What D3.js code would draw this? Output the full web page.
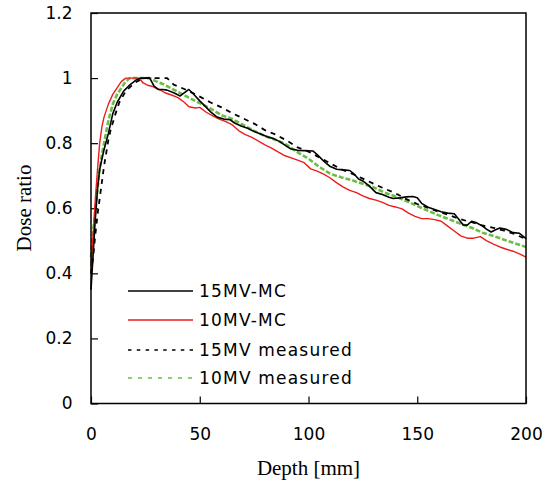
<!DOCTYPE html>
<html lang="en">
<head>
    <meta charset="UTF-8">
    <title>Dose ratio vs depth</title>
    <script src="https://d3js.org/d3.v7.min.js"></script>
    <style>
        body { margin: 0; background: #fff; }
        .tick text { font-family: "DejaVu Sans", sans-serif; font-size: 17px; fill: #000; }
        .tick line { stroke: #000; stroke-width: 1.2; }
        .legend text { font-family: "DejaVu Sans", sans-serif; font-size: 17px; letter-spacing: 1.2px; }
        .title { font-family: "Liberation Serif", "Times New Roman", serif; font-size: 21px; }
    </style>
</head>
<body>
<svg width="553" height="484"></svg>
<script>
    // 15MV Monte Carlo
    const mc15Depth = [0,1,2,3,4,6,8,10,12,15,18,21,23,27,29,31,33,35,38,41,43,45,47,50,53,55,58,61,64,66,69,72,75,78,81,84,87,90,92,95,98,102,104,107,110,113,116,119,121,123,125,128,131,134,137,139,142,145,148,150,152,155,158,161,164,167,169,171,173,175,177,180,182,184,186,188,191,194,197,200];
    const mc15Dose  = [0.35,0.46,0.57,0.66,0.72,0.78,0.83,0.89,0.925,0.96,0.98,0.995,1.0,1.0,0.975,0.965,0.965,0.963,0.955,0.945,0.955,0.965,0.952,0.93,0.91,0.896,0.88,0.874,0.872,0.862,0.853,0.846,0.836,0.828,0.82,0.814,0.804,0.79,0.782,0.778,0.777,0.776,0.765,0.745,0.728,0.72,0.718,0.716,0.705,0.69,0.684,0.668,0.648,0.642,0.634,0.63,0.632,0.635,0.636,0.632,0.615,0.603,0.596,0.589,0.585,0.583,0.567,0.549,0.548,0.56,0.556,0.545,0.535,0.527,0.534,0.539,0.535,0.525,0.523,0.507];

    // 10MV Monte Carlo
    const mc10Depth = [0,1,2,3,4,5,6,8,10,12,14,16,22,24,26,28,30,32,34,37,40,43,45,48,50,53,56,59,62,65,68,71,74,77,80,83,86,89,92,95,98,101,104,107,110,113,116,119,122,125,128,131,134,137,140,143,146,149,152,155,158,161,164,167,170,173,176,179,182,185,188,191,194,197,200];
    const mc10Dose  = [0.42,0.52,0.63,0.72,0.80,0.85,0.88,0.92,0.95,0.97,0.99,1.0,1.0,0.985,0.978,0.975,0.968,0.963,0.955,0.948,0.94,0.925,0.912,0.908,0.91,0.895,0.884,0.874,0.866,0.856,0.838,0.826,0.818,0.806,0.795,0.785,0.773,0.762,0.755,0.748,0.74,0.721,0.714,0.705,0.693,0.678,0.665,0.655,0.648,0.638,0.63,0.625,0.618,0.609,0.604,0.598,0.585,0.575,0.568,0.568,0.565,0.56,0.545,0.53,0.515,0.508,0.508,0.513,0.5,0.49,0.481,0.474,0.468,0.46,0.45];

    // 15MV measured
    const meas15Depth = [0,1,2,3,4,5,6,7,8,9,11,13,16,20,24,35,38,41,45,50,55,60,65,70,75,80,85,90,95,100,105,110,115,120,125,130,135,140,145,150,155,160,165,170,175,180,185,190,195,200];
    const meas15Dose  = [0.40,0.45,0.52,0.58,0.63,0.68,0.73,0.77,0.81,0.84,0.885,0.925,0.96,0.985,1.0,1.0,0.98,0.972,0.96,0.943,0.925,0.91,0.892,0.876,0.86,0.84,0.826,0.808,0.787,0.774,0.756,0.738,0.72,0.706,0.691,0.675,0.66,0.646,0.628,0.613,0.601,0.589,0.578,0.566,0.557,0.547,0.54,0.531,0.52,0.505];

    // 10MV measured
    const meas10Depth = [0,1,2,3,4,5,6,8,10,12,14,16,18,27,30,33,37,41,45,50,55,60,65,70,75,80,85,90,95,100,105,110,115,120,125,130,135,140,145,150,155,160,165,170,175,180,185,190,195,200];
    const meas10Dose  = [0.45,0.53,0.59,0.66,0.72,0.765,0.80,0.87,0.92,0.95,0.97,0.99,1.0,1.0,0.99,0.982,0.968,0.954,0.94,0.923,0.906,0.886,0.874,0.856,0.838,0.822,0.81,0.795,0.772,0.752,0.727,0.706,0.695,0.686,0.675,0.664,0.648,0.636,0.622,0.607,0.592,0.578,0.565,0.552,0.54,0.525,0.515,0.503,0.492,0.481];

    const seriesNames = ["15MV-MC", "10MV-MC", "15MV measured", "10MV measured"];
    const xTicks = [0, 50, 100, 150, 200];
    const yTicks = [0, 0.2, 0.4, 0.6, 0.8, 1.0, 1.2];

    const zip = (ds, vs) => ds.map((d, i) => ({ depth: d, dose: vs[i] }));
    const series = [
        { name: seriesNames[0], pts: zip(mc15Depth, mc15Dose), color: "#000", width: 1.6, dash: null, lw: 1.6, ldash: null },
        { name: seriesNames[1], pts: zip(mc10Depth, mc10Dose), color: "#ee1c1c", width: 1.4, dash: null, lw: 1.4, ldash: null },
        { name: seriesNames[2], pts: zip(meas15Depth, meas15Dose), color: "#000", width: 1.8, dash: "5,5", lw: 1.6, ldash: "3.5,5.3" },
        { name: seriesNames[3], pts: zip(meas10Depth, meas10Dose), color: "#6cbd45", width: 2.6, dash: "5,2", lw: 1.6, ldash: "4,6" }
    ];

    const svg = d3.select("svg");
    const plotLeft = 91, plotRight = 526, plotTop = 13, plotBottom = 403.5;

    const x = d3.scaleLinear().domain([0, 200]).range([plotLeft, plotRight]);
    const y = d3.scaleLinear().domain([0, 1.2]).range([plotBottom, plotTop]);

    // axes (ticks pointing inward)
    svg.append("g")
        .attr("transform", `translate(0,${plotBottom})`)
        .call(d3.axisBottom(x).tickValues(xTicks).tickSizeInner(-7).tickSizeOuter(0).tickPadding(24.5))
        .call(g => g.select(".domain").remove());

    svg.append("g")
        .attr("transform", `translate(${plotLeft},0)`)
        .call(d3.axisLeft(y).tickValues(yTicks).tickFormat(d => String(+d.toFixed(1)))
            .tickSizeInner(-7).tickSizeOuter(0).tickPadding(18.5))
        .call(g => g.select(".domain").remove());

    const line = d3.line().x(d => x(d.depth)).y(d => y(d.dose));

    svg.append("g").selectAll("path")
        .data(series.slice().reverse())
        .join("path")
        .attr("fill", "none")
        .attr("stroke", d => d.color)
        .attr("stroke-width", d => d.width)
        .attr("stroke-dasharray", d => d.dash)
        .attr("stroke-linejoin", "round")
        .attr("d", d => line(d.pts));

    // plot frame
    svg.append("rect")
        .attr("x", plotLeft).attr("y", plotTop)
        .attr("width", plotRight - plotLeft).attr("height", plotBottom - plotTop)
        .attr("fill", "none").attr("stroke", "#000").attr("stroke-width", 1.5);

    // legend
    const legend = svg.append("g").attr("class", "legend");
    const rowY = [291, 320, 350, 378];
    series.forEach((s, i) => {
        legend.append("line")
            .attr("x1", 128).attr("x2", 193)
            .attr("y1", rowY[i]).attr("y2", rowY[i])
            .attr("stroke", s.color).attr("stroke-width", s.lw)
            .attr("stroke-dasharray", s.ldash);
        legend.append("text")
            .attr("x", 199).attr("y", rowY[i] + 6.2)
            .text(s.name);
    });

    // axis titles
    svg.append("text").attr("class", "title")
        .attr("x", (plotLeft + plotRight) / 2).attr("y", 475)
        .attr("text-anchor", "middle")
        .text("Depth [mm]");

    svg.append("text").attr("class", "title")
        .attr("transform", "translate(31,208) rotate(-90)")
        .attr("text-anchor", "middle")
        .text("Dose ratio");
</script>
</body>
</html>
